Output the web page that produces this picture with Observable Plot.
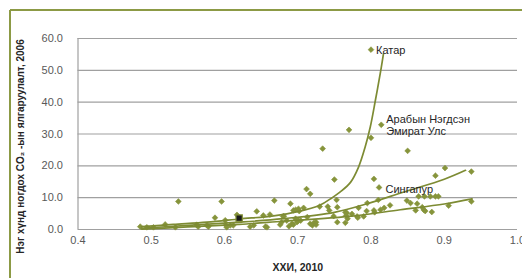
<!DOCTYPE html>
<html>
<head>
<meta charset="utf-8">
<script src="https://cdn.jsdelivr.net/npm/d3@7"></script>
<script src="https://cdn.jsdelivr.net/npm/@observablehq/plot@0.6"></script>
<style>
  html, body { margin: 0; padding: 0; background: #fff; }
  #chart { width: 522px; height: 278px; overflow: hidden; }
</style>
</head>
<body>
<div id="chart"></div>
<script>
// HDI 2010 (x) vs CO2 emissions per capita 2006 (y)
const hdi = [0.485,0.494,0.503,0.519,0.533,0.537,0.562,0.564,0.576,0.578,0.587,0.596,0.601,0.602,0.603,0.608,0.612,0.617,0.635,0.640,0.644,0.653,0.656,0.658,0.662,0.668,0.676,0.678,0.680,0.681,0.685,0.688,0.690,0.692,0.694,0.694,0.697,0.697,0.699,0.701,0.701,0.702,0.704,0.708,0.712,0.713,0.717,0.717,0.720,0.722,0.725,0.725,0.730,0.734,0.741,0.743,0.749,0.750,0.753,0.754,0.754,0.765,0.765,0.766,0.767,0.768,0.770,0.774,0.781,0.782,0.783,0.790,0.794,0.795,0.800,0.800,0.804,0.804,0.805,0.810,0.811,0.813,0.814,0.818,0.826,0.849,0.850,0.854,0.861,0.863,0.865,0.870,0.872,0.873,0.874,0.881,0.883,0.888,0.888,0.892,0.901,0.906,0.937,0.937];
const co2 = [0.9,0.7,0.7,1.6,0.7,8.8,1.5,0.9,1.3,0.9,3.7,8.8,2.9,1.3,0.7,1.3,1.3,4.6,0.9,1.3,5.7,4.4,0.9,0.7,4.7,9.1,1.5,2.3,4.1,4.2,2.8,1.0,8.1,1.8,1.5,6.0,3.4,6.2,2.3,6.5,2.8,5.8,2.8,6.8,12.7,3.9,11.2,1.8,1.3,2.1,1.5,2.3,7.2,25.4,7.2,6.0,4.2,15.7,9.3,2.3,7.0,2.1,5.4,4.4,5.2,3.4,31.3,4.9,4.1,3.7,6.8,4.1,5.8,8.3,56.5,28.8,15.9,6.0,5.4,9.3,13.2,6.2,32.9,6.8,7.6,9.1,24.7,8.3,6.0,8.1,10.4,7.0,6.2,10.4,5.8,10.4,5.5,10.4,16.9,10.4,19.3,7.5,18.2,8.8];

// highlighted country (black square)
const highlightX = [0.620];
const highlightY = [3.6];

// trend curves
const trendAX = [0.487,0.530,0.576,0.621,0.667,0.700,0.730,0.747,0.758,0.772,0.783,0.792,0.799,0.806,0.813,0.817];
const trendAY = [0.9,1.6,2.3,3.3,4.3,5.6,7.6,10.0,11.8,14.8,19.6,25.9,32.2,40.6,49.5,55.2];
const trendBX = [0.487,0.550,0.621,0.680,0.750,0.795,0.845,0.900,0.929];
const trendBY = [0.4,1.3,2.3,3.4,5.4,8.1,11.8,15.8,18.6];
const trendCX = [0.487,0.550,0.620,0.680,0.770,0.840,0.900,0.938];
const trendCY = [0.1,0.8,1.6,2.6,4.1,6.2,8.0,9.6];

// country labels
const labelText = ["Катар", "Арабын Нэгдсэн\nЭмират Улс", "Сингапур"];
const labelX = [0.800, 0.814, 0.813];
const labelY = [56.5, 32.9, 12.6];

const xTicks = [0.4,0.5,0.6,0.7,0.8,0.9,1.0];
const yTicks = [0,10,20,30,40,50,60];
const xTitle = "ХХИ, 2010";
const yTitle = "Нэг хүнд ногдох CO₂ -ын ялгаруулалт, 2006";

const points = hdi.map((x, i) => ({x, y: co2[i]}));
const curve = (xs, ys, k) => xs.map((x, i) => ({x, y: ys[i], k}));
const trends = [
  ...curve(trendAX, trendAY, "A"),
  ...curve(trendBX, trendBY, "B"),
  ...curve(trendCX, trendCY, "C")
];
const labels = labelText.map((t, i) => ({t, x: labelX[i], y: labelY[i]}));
const highlight = highlightX.map((x, i) => ({x, y: highlightY[i]}));

const olive = "#86943b";
const oliveLine = "#7d8b33";
const font = "'Liberation Sans', Arial, sans-serif";

const chart = Plot.plot({
  width: 522,
  height: 278,
  marginLeft: 77.5,
  marginRight: 5,
  marginTop: 38,
  marginBottom: 49,
  style: {fontFamily: font, fontSize: "11px", color: "#595959", background: "transparent", overflow: "visible"},
  x: {domain: [0.4, 1.0], ticks: xTicks, tickFormat: d3.format(".1f"), tickSize: 0, tickPadding: 7, label: null},
  y: {domain: [0, 60], ticks: yTicks, tickFormat: d3.format(".1f"), tickSize: 0, tickPadding: 15, label: null},
  marks: [
    Plot.ruleY(yTicks, {stroke: "#a0a0a0", strokeWidth: 1.2}),
    Plot.ruleX([0.4], {y1: 0, y2: 60, stroke: "#a0a0a0", strokeWidth: 1.2}),
    Plot.dot(points, {x: "x", y: "y", symbol: "diamond2", r: 2.6, fill: olive, stroke: olive, strokeWidth: 0.6}),
    Plot.line(trends, {x: "x", y: "y", z: "k", stroke: oliveLine, strokeWidth: 1.7, curve: "catmull-rom"}),
    Plot.dot(highlight, {x: "x", y: "y", symbol: "square", r: 3.6, fill: "#1a1a1a", stroke: olive, strokeWidth: 1.2}),
    Plot.text(labels, {x: "x", y: "y", text: "t", textAnchor: "start", dx: 5, fill: "#262626", fontSize: 11, lineHeight: 1.15}),
    Plot.text([xTitle], {frameAnchor: "bottom", dy: 41, fill: "#262626", fontWeight: "bold", fontSize: 10.5}),
    Plot.text([yTitle], {frameAnchor: "left", textAnchor: "middle", dx: -57, dy: 12.5, rotate: -90, fill: "#262626", fontWeight: "bold", fontSize: 10})
  ]
});

// outer chart-area border (top and left edges)
const svg = d3.select(chart);
svg.insert("g", ":first-child")
  .call(g => {
    g.append("line").attr("x1", 10).attr("x2", 522).attr("y1", 10).attr("y2", 10)
      .attr("stroke", "#8c9a45").attr("stroke-width", 2);
    g.append("line").attr("x1", 10).attr("x2", 10).attr("y1", 10).attr("y2", 278)
      .attr("stroke", "#8c9a45").attr("stroke-width", 2);
  });

document.getElementById("chart").appendChild(chart);
</script>
</body>
</html>
